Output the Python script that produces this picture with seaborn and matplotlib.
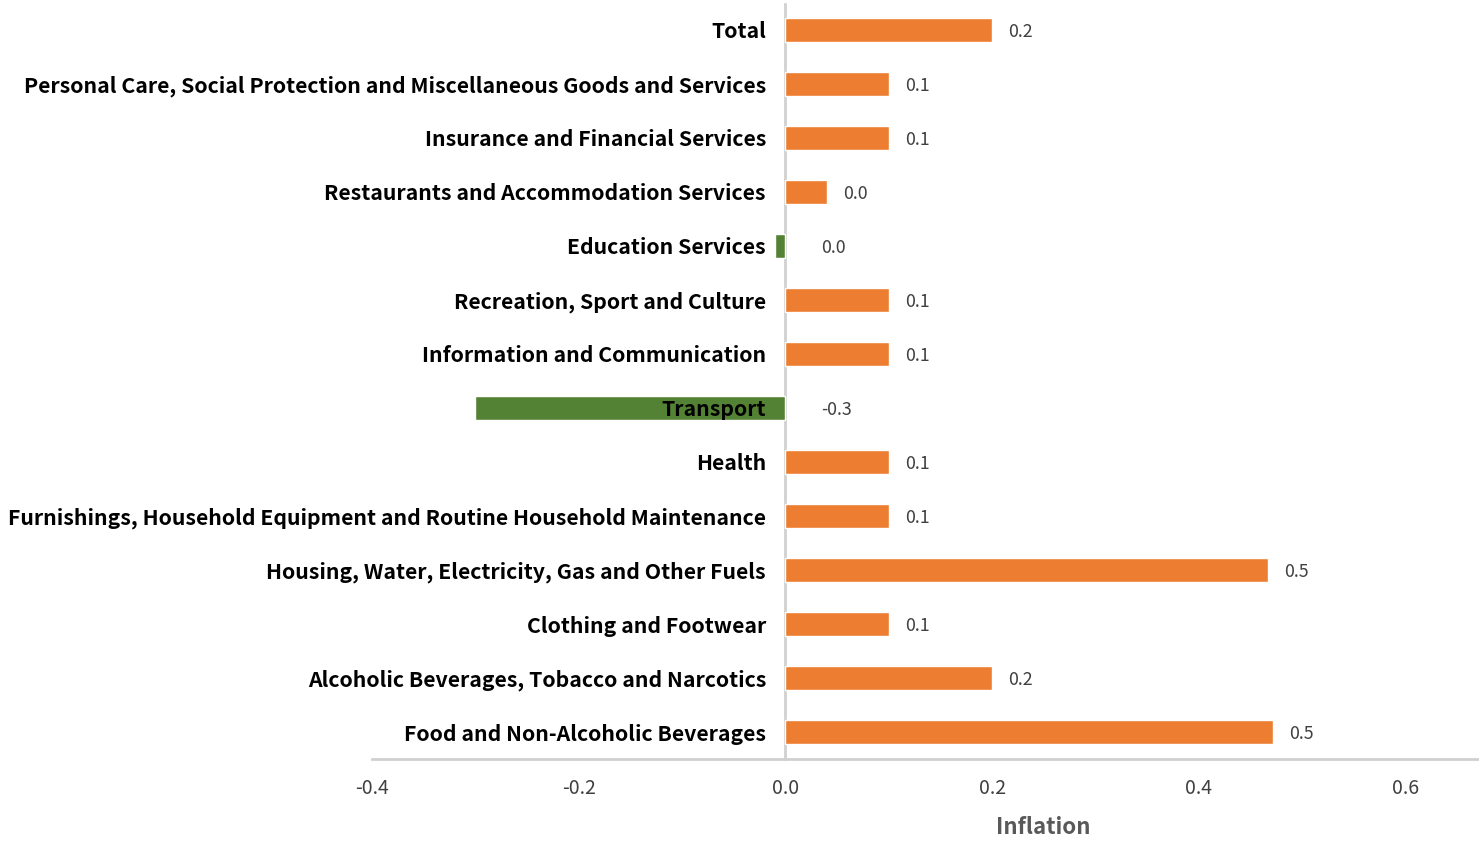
import numpy as np
import pandas as pd
import matplotlib
matplotlib.use("Agg")
import matplotlib.pyplot as plt
import seaborn as sns

# data
categories = [
    "Total",
    "Personal Care, Social Protection and Miscellaneous Goods and Services",
    "Insurance and Financial Services",
    "Restaurants and Accommodation Services",
    "Education Services",
    "Recreation, Sport and Culture",
    "Information and Communication",
    "Transport",
    "Health",
    "Furnishings, Household Equipment and Routine Household Maintenance",
    "Housing, Water, Electricity, Gas and Other Fuels",
    "Clothing and Footwear",
    "Alcoholic Beverages, Tobacco and Narcotics",
    "Food and Non-Alcoholic Beverages",
]
inflation = [0.2, 0.1, 0.1, 0.04, -0.01, 0.1, 0.1, -0.3, 0.1, 0.1, 0.467, 0.1, 0.2, 0.472]
x_ticks = [-0.4, -0.2, 0.0, 0.2, 0.4, 0.6]

df = pd.DataFrame({"category": categories, "inflation": inflation})
df["sign"] = np.where(df["inflation"] < 0, "neg", "pos")

sns.set_theme(style="white")
plt.rcParams["font.family"] = ["Noto Sans CJK JP", "DejaVu Sans"]

fig = plt.figure(figsize=(14.79, 8.46), dpi=100)
ax = fig.add_axes([0.2515, 0.1028, 0.7478, 0.8925])

sns.barplot(data=df, x="inflation", y="category", hue="sign", orient="h",
            palette={"pos": "#ED7D31", "neg": "#548235"}, dodge=False,
            width=0.44, saturation=1, legend=False, ax=ax, zorder=1)

# category axis sits at zero, like the Excel original
ax.spines["left"].set_position(("data", 0))
ax.spines["left"].set_color("#D0D0D0")
ax.spines["left"].set_linewidth(2)
ax.spines["left"].set_zorder(0)
for s in ["top", "right"]:
    ax.spines[s].set_visible(False)
ax.spines["bottom"].set_color("#D0D0D0")
ax.spines["bottom"].set_linewidth(2)

ax.set_xlim(-0.4, 0.67)
ax.set_ylim(len(categories) - 0.5, -0.48)
ax.set_xticks(x_ticks)
ax.set_xticklabels([f"{t:.1f}" for t in x_ticks], fontsize=14, color="#404040")
ax.tick_params(axis="x", length=6, width=1.2, color="#D0D0D0", pad=8)
ax.tick_params(axis="y", length=0, pad=14, labelsize=15.3, labelcolor="black")
for lbl in ax.get_yticklabels():
    lbl.set_fontweight("bold")
ax.yaxis.set_zorder(5)

# value labels
for i, v in enumerate(inflation):
    txt = f"{v:.1f}"
    if txt == "-0.0":
        txt = "0.0"
    off = 16 if v >= 0 else 36
    ax.annotate(txt, (max(v, 0), i), xytext=(off * 0.72, 0), textcoords="offset points",
                ha="left", va="center_baseline", fontsize=12.8, color="#404040")

ax.set_ylabel("")
ax.set_xlabel("Inflation", fontsize=16, fontweight="bold", color="#595959")
ax.xaxis.set_label_coords(0.607, -0.075)

fig.savefig("out.png", dpi=100)
